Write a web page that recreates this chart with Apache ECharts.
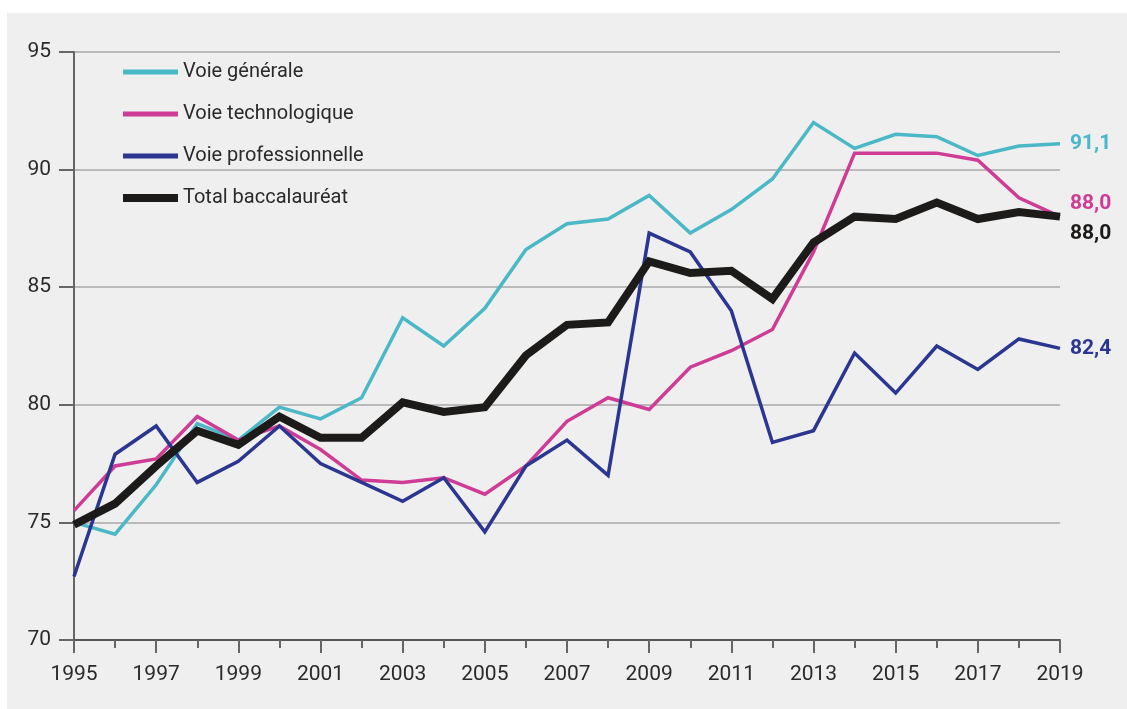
<!DOCTYPE html>
<html>
<head>
<meta charset="utf-8">
<script src="https://cdn.jsdelivr.net/npm/echarts@6/dist/echarts.min.js"></script>
<style>
  body { margin: 0; background: #fff; }
  #panel { position: absolute; left: 7px; top: 13px; right: 0; bottom: 0; background: #efefef; }
  #chart { position: absolute; left: 0; top: 0; width: 1127px; height: 709px; }
</style>
</head>
<body>
<div id="panel"></div>
<div id="chart"></div>
<script>
// taux de réussite au baccalauréat, par voie (%)
const years = [1995, 1996, 1997, 1998, 1999, 2000, 2001, 2002, 2003, 2004, 2005, 2006,
  2007, 2008, 2009, 2010, 2011, 2012, 2013, 2014, 2015, 2016, 2017, 2018, 2019]
const generale = [75.0, 74.5, 76.6, 79.2, 78.5, 79.9, 79.4, 80.3, 83.7, 82.5, 84.1, 86.6,
  87.7, 87.9, 88.9, 87.3, 88.3, 89.6, 92.0, 90.9, 91.5, 91.4, 90.6, 91.0, 91.1]
const techno = [75.5, 77.4, 77.7, 79.5, 78.5, 79.1, 78.1, 76.8, 76.7, 76.9, 76.2, 77.4,
  79.3, 80.3, 79.8, 81.6, 82.3, 83.2, 86.5, 90.7, 90.7, 90.7, 90.4, 88.8, 88.0]
const pro = [72.7, 77.9, 79.1, 76.7, 77.6, 79.1, 77.5, 76.7, 75.9, 76.9, 74.6, 77.4,
  78.5, 77.0, 87.3, 86.5, 84.0, 78.4, 78.9, 82.2, 80.5, 82.5, 81.5, 82.8, 82.4]
const total = [74.9, 75.8, 77.4, 78.9, 78.3, 79.5, 78.6, 78.6, 80.1, 79.7, 79.9, 82.1,
  83.4, 83.5, 86.1, 85.6, 85.7, 84.5, 86.9, 88.0, 87.9, 88.6, 87.9, 88.2, 88.0]
const names = ['Voie générale', 'Voie technologique', 'Voie professionnelle', 'Total baccalauréat']
const yTicks = [70, 75, 80, 85, 90, 95]

const colors = ['#4ab8c7', '#cf3c95', '#2b3691', '#1c1b1a']
const widths = [3.5, 3.5, 3.5, 8]
// icônes de légende : barre fine centrée dans une boîte 55x20
const thinBar = 'path://M0,0M55,20M0,7.5H55V12.5H0Z'
const thickBar = 'path://M0,0M55,20M0,6H55V14H0Z'
const legendIcons = [thinBar, thinBar, thinBar, thickBar]
// décalage vertical des étiquettes de fin (les deux 88,0 se chevauchent)
const labelDy = [0, -13, 0, 17]

function pairs(vals){
  return years.map((y, i) => [y, vals[i]])
}

function makeSeries(idx, vals){
  return {
    name: names[idx],
    type: 'line',
    data: pairs(vals),
    symbol: 'none',
    z: 2 + idx,
    lineStyle: { color: colors[idx], width: widths[idx], join: 'miter' },
    itemStyle: { color: colors[idx] },
    endLabel: {
      show: true,
      distance: 10,
      offset: [0, labelDy[idx]],
      formatter: p => p.value[1].toFixed(1).replace('.', ','),
      color: colors[idx],
      fontFamily: 'Roboto',
      fontWeight: 'bold',
      fontSize: 21
    }
  }
}

const series = [
  makeSeries(0, generale),
  makeSeries(1, techno),
  makeSeries(2, pro),
  makeSeries(3, total)
]

const myChart = echarts.init(document.getElementById('chart'))
myChart.setOption({
  animation: false,
  textStyle: { fontFamily: 'Roboto' },
  grid: { left: 74, right: 67, top: 52, bottom: 69 },
  legend: {
    orient: 'vertical',
    left: 118,
    top: 57,
    itemWidth: 55,
    itemHeight: 20,
    itemGap: 22,
    textStyle: { fontSize: 20, color: '#2a2a2a', fontFamily: 'Roboto' },
    data: names.map((n, i) => ({
      name: n,
      icon: legendIcons[i],
      itemStyle: { color: colors[i] }
    }))
  },
  xAxis: {
    type: 'value',
    min: years[0],
    max: years[years.length - 1],
    interval: 2,
    axisLine: { show: true, onZero: false, lineStyle: { color: '#555', width: 2 } },
    axisTick: { show: true, length: 13, lineStyle: { color: '#666', width: 2 } },
    minorTick: { show: true, splitNumber: 2, length: 8, lineStyle: { color: '#666', width: 2 } },
    splitLine: { show: false },
    axisLabel: { fontSize: 21, color: '#2a2a2a', margin: 24, formatter: v => String(v) }
  },
  yAxis: {
    type: 'value',
    min: yTicks[0],
    max: yTicks[yTicks.length - 1],
    interval: 5,
    axisLine: { show: true, lineStyle: { color: '#666', width: 2 } },
    axisTick: { show: true, length: 15, lineStyle: { color: '#666', width: 2 } },
    splitLine: { lineStyle: { color: '#a9a9a9', width: 1.5 } },
    axisLabel: { fontSize: 21, color: '#2a2a2a', margin: 23 }
  },
  series: series
})
</script>
</body>
</html>
